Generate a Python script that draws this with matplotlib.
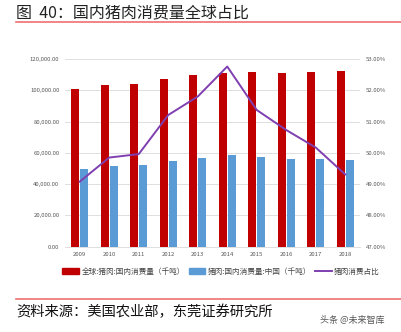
import numpy as np
import matplotlib.pyplot as plt
from matplotlib.ticker import FuncFormatter
from matplotlib.lines import Line2D
from matplotlib.patches import Patch

plt.rcParams['font.family'] = ['Noto Sans CJK SC', 'DejaVu Sans']
plt.rcParams['axes.unicode_minus'] = False

years = ['2009', '2010', '2011', '2012', '2013', '2014', '2015', '2016', '2017', '2018']
# 全球猪肉国内消费量（千吨）
world_pork = [100600, 103400, 103800, 107200, 109800, 111300, 111500, 111100, 111700, 112500]
# 中国猪肉国内消费量（千吨）
china_pork = [49500, 51600, 52000, 55000, 56700, 58400, 57300, 56300, 56100, 55400]
# 中国占全球比例（%）
china_share = [49.08, 49.85, 49.96, 51.21, 51.80, 52.76, 51.37, 50.73, 50.17, 49.31]

RED = '#C00000'
BLUE = '#5B9BD5'
PURPLE = '#7F3FB0'
GRID = '#D9D9D9'
TICK = '#595959'

fig = plt.figure(figsize=(4.02, 3.32), dpi=100)

# 标题与分隔线
fig.text(16 / 402, 1 - 13 / 332, '图  40：国内猪肉消费量全球占比', fontsize=11.5,
         ha='left', va='center', color='#222222')
fig.add_artist(Line2D([16 / 402, 1.0], [1 - 22 / 332] * 2, color='#F07070', lw=1.2))
fig.add_artist(Line2D([16 / 402, 1.0], [1 - 298.5 / 332] * 2, color='#F07070', lw=1.2))
fig.text(16 / 402, 1 - 312 / 332, '资料来源：美国农业部，东莞证券研究所', fontsize=10.3,
         ha='left', va='center', color='#111111', fontweight='medium')
fig.text(320 / 402, 1 - 320 / 332, '头条 @未来智库', fontsize=6.5,
         ha='left', va='center', color='#555555')

ax = fig.add_axes([65 / 402, 1 - 246.7 / 332, 295 / 402, (246.7 - 59) / 332])
x = np.arange(len(years))
w = 0.27
ax.bar(x - 0.15, world_pork, width=w, color=RED, zorder=3)
ax.bar(x + 0.15, china_pork, width=w, color=BLUE, zorder=3)
ax.set_xlim(-0.5, len(years) - 0.5)
ax.set_ylim(0, 120000)
ax.set_yticks(np.arange(0, 120001, 20000))
ax.yaxis.set_major_formatter(FuncFormatter(lambda v, p: f'{v:,.2f}'))
ax.set_xticks(x)
ax.set_xticklabels(years)
ax.grid(axis='y', color=GRID, lw=0.6, zorder=0)
for s in ['top', 'left', 'right']:
    ax.spines[s].set_visible(False)
ax.spines['bottom'].set_color(GRID)
ax.spines['bottom'].set_linewidth(0.6)
ax.tick_params(axis='both', length=0, labelsize=4.3, colors=TICK, pad=4)

ax2 = ax.twinx()
ax2.plot(x, china_share, color=PURPLE, lw=1.4, zorder=4)
ax2.set_ylim(47, 53)
ax2.set_yticks(np.arange(47, 53.01, 1))
ax2.yaxis.set_major_formatter(FuncFormatter(lambda v, p: f'{v:.2f}%'))
for s in ['top', 'left', 'right', 'bottom']:
    ax2.spines[s].set_visible(False)
ax2.tick_params(axis='y', length=0, labelsize=4.3, colors=TICK, pad=4)

handles = [Patch(color=RED), Patch(color=BLUE), Line2D([0], [0], color=PURPLE, lw=1.4)]
labels = ['全球:猪肉:国内消费量（千吨）', '猪肉:国内消费量:中国（千吨）', '猪肉消费占比']
fig.legend(handles, labels, loc='center', bbox_to_anchor=(221 / 402, 1 - 271.5 / 332),
           ncol=3, frameon=False, fontsize=5.5, handlelength=2.2, handleheight=0.9,
           handletextpad=0.3, columnspacing=0.5, labelcolor='#444444')

fig.savefig('out.png', dpi=100)
